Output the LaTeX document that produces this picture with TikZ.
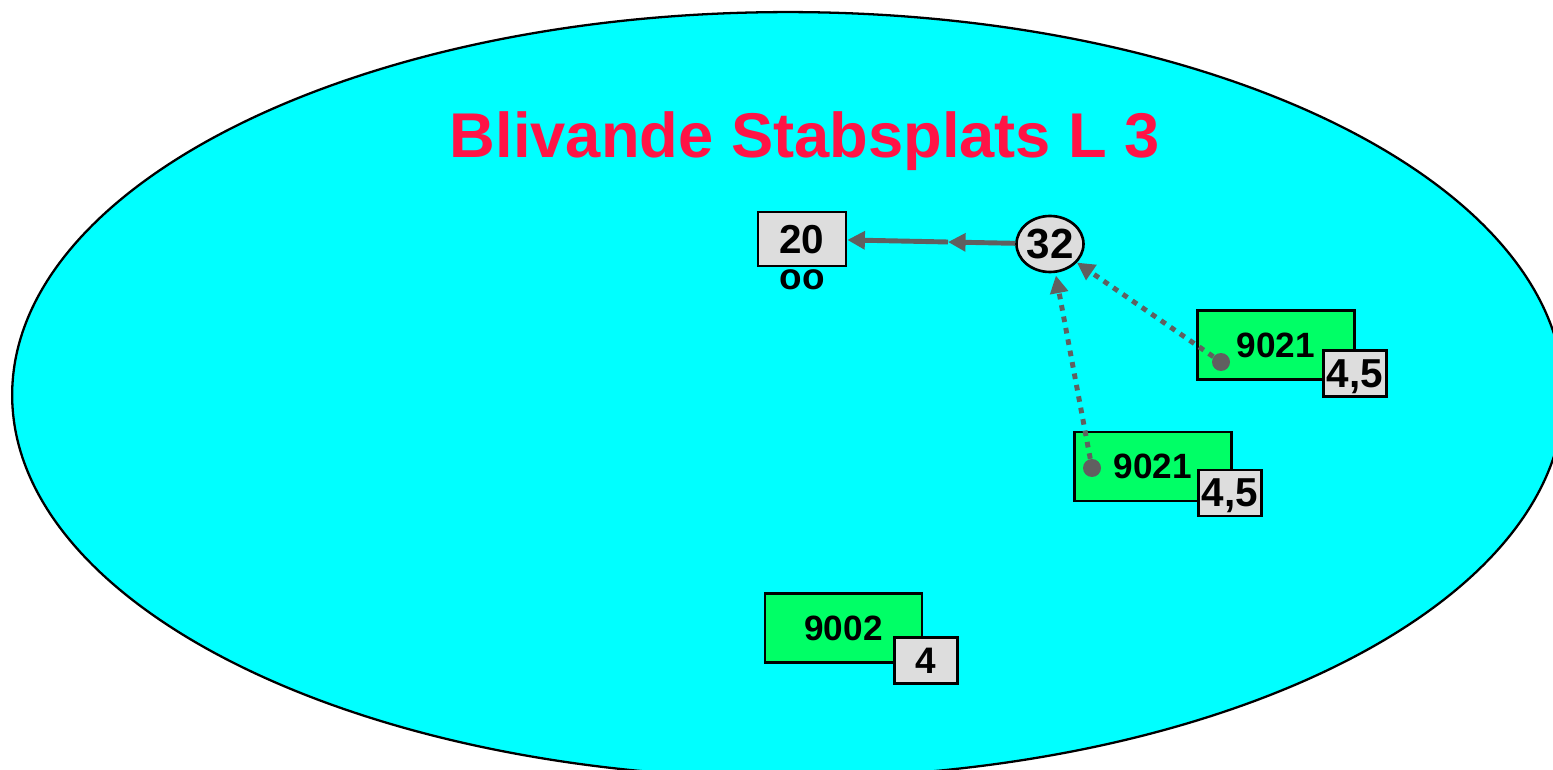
\documentclass[tikz,border=0pt]{standalone}
\usepackage{fontspec}
\setmainfont{Liberation Sans}
\usetikzlibrary{arrows.meta,shapes.geometric}

\definecolor{lake}{RGB}{0,255,255}
\definecolor{unitgreen}{RGB}{0,255,102}
\definecolor{taggray}{RGB}{221,221,221}
\definecolor{linkgray}{RGB}{96,96,96}
\definecolor{titlered}{RGB}{255,20,70}

\tikzset{
  unit/.style={draw=black, fill=unitgreen, line width=1.5pt, inner sep=0pt,
    minimum width=3.14cm, minimum height=1.38cm, text depth=0pt,
    font=\fontsize{20}{24}\selectfont\bfseries},
  tag/.style={draw=black, fill=taggray, line width=1.5pt, inner sep=0pt,
    minimum width=1.26cm, minimum height=0.92cm, text depth=0pt,
    font=\fontsize{23}{27}\selectfont\bfseries},
  link/.style={draw=linkgray, line width=2.8pt, -{Triangle[length=10pt,width=10pt]}},
  dotlink/.style={link, dash pattern=on 3.2pt off 3.4pt},
  pin/.style={circle, fill=linkgray, minimum size=0.36cm, inner sep=0pt},
}

\begin{document}
\begin{tikzpicture}[x=0.02cm, y=-0.02cm]
  \useasboundingbox (0,0) rectangle (1553,770);
  \clip (0,0) rectangle (1553,770);
  % area
  \filldraw[fill=lake, draw=black, line width=1.3pt] (788,395) ellipse [x radius=15.52cm, y radius=7.66cm];
  \node[anchor=base, text=titlered, font=\fontsize{36}{43}\selectfont\bfseries] (title) at (805,158) {Blivande Stabsplats L 3};

  % staff
  \node[tag, minimum width=1.76cm, minimum height=1.08cm] (b20) at (802,239) {20};
  \node[anchor=base, font=\fontsize{21}{25}\selectfont\bfseries] (oo) at (802,290) {oo};
  \node[ellipse, draw=black, fill=taggray, line width=1.5pt, inner sep=0pt,
    minimum width=1.34cm, minimum height=1.12cm, text depth=0pt,
    font=\fontsize{24}{28}\selectfont\bfseries] (c32) at (1050,244) {32};

  % units
  \node[unit, text width=2.9cm, align=center] (u1) at (1276,345) {9021\hspace*{0.2cm}};
  \node[tag] (t1) at (1355,373.5) {4,5};
  \node[unit, text width=2.9cm, align=center] (u2) at (1153,466.5) {9021\hspace*{0.1cm}};
  \node[tag] (t2) at (1230,493) {4,5};
  \node[unit] (u3) at (843.5,628) {9002};
  \node[tag, font=\fontsize{21}{25}\selectfont\bfseries] (t3) at (926,660.5) {4};

  % links
  \node[pin] (d1) at (1221,362) {};
  \node[pin] (d2) at (1092,468) {};
  \coordinate (mid) at (948,242);
  \draw[link] (c32) -- (mid);
  \draw[link] (mid) -- (b20);
  \draw[dotlink] (d1) -- (c32);
  \draw[dotlink, shorten >=1.5pt] (d2) -- (c32);
\end{tikzpicture}
\end{document}
